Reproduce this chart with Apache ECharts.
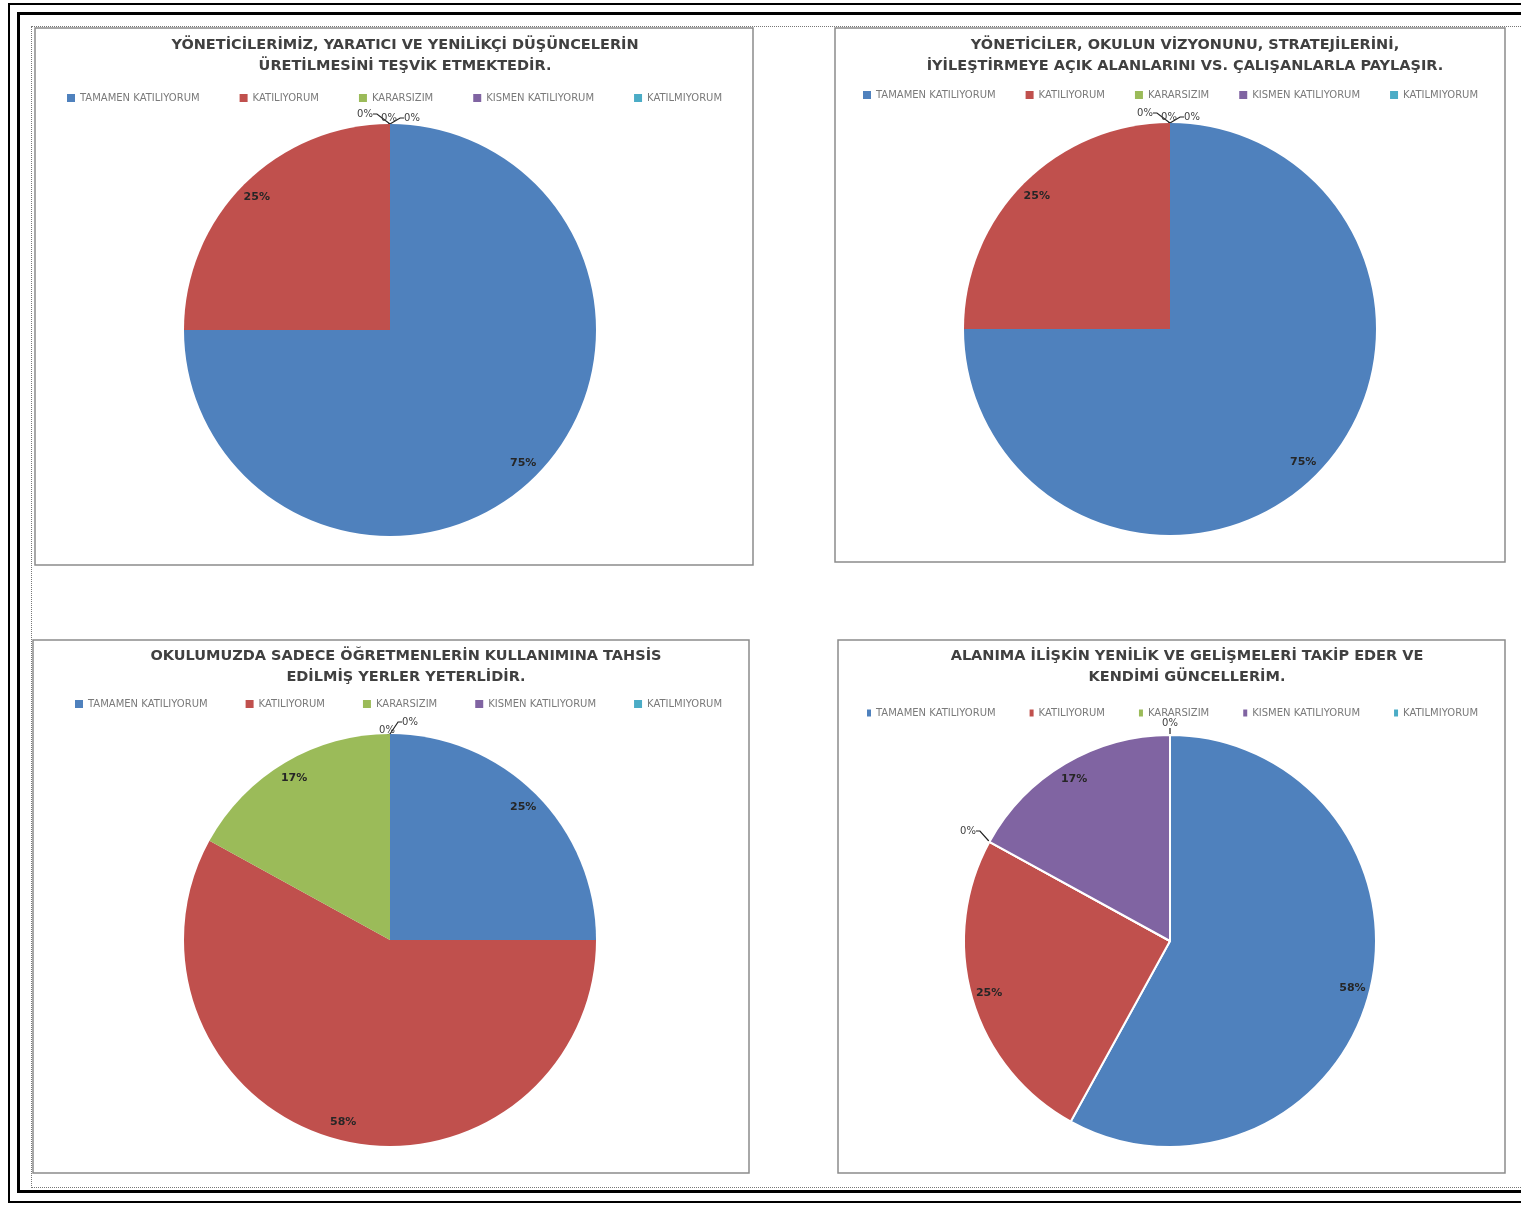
<!DOCTYPE html>
<html>
<head>
<meta charset="utf-8">
<script src="https://cdn.jsdelivr.net/npm/echarts@6/dist/echarts.min.js"></script>
<style>
  html, body { margin:0; padding:0; background:#fff; width:1521px; height:1207px; overflow:hidden; }
  .f { position:absolute; box-sizing:border-box; }
  #chart { position:absolute; left:0; top:0; width:1521px; height:1207px; z-index:2; }
</style>
</head>
<body>
<div class="f" style="left:8px;top:3px;width:1530px;height:1200px;border:2px solid #000;"></div>
<div class="f" style="left:17px;top:12px;width:1520px;height:1181px;border:3px solid #000;"></div>
<div class="f" style="left:31px;top:26px;width:1500px;height:1162px;border:1px dotted #777;"></div>
<div id="chart"></div>
<script>
const categories = ['TAMAMEN KATILIYORUM', 'KATILIYORUM', 'KARARSIZIM', 'KISMEN KATILIYORUM', 'KATILMIYORUM'];
const colors = ['#4F81BD', '#C0504D', '#9BBB59', '#8064A2', '#4BACC6'];
const titles = [
  'YÖNETİCİLERİMİZ, YARATICI VE YENİLİKÇİ DÜŞÜNCELERİN\nÜRETİLMESİNİ TEŞVİK ETMEKTEDİR.',
  'YÖNETİCİLER, OKULUN VİZYONUNU, STRATEJİLERİNİ,\nİYİLEŞTİRMEYE AÇIK ALANLARINI VS. ÇALIŞANLARLA PAYLAŞIR.',
  'OKULUMUZDA SADECE ÖĞRETMENLERİN KULLANIMINA TAHSİS\nEDİLMİŞ YERLER YETERLİDİR.',
  'ALANIMA İLİŞKİN YENİLİK VE GELİŞMELERİ TAKİP EDER VE\nKENDİMİ GÜNCELLERİM.'
];
const values1 = [75, 25, 0, 0, 0];
const values2 = [75, 25, 0, 0, 0];
const values3 = [25, 58, 17, 0, 0];
const values4 = [58, 25, 0, 17, 0];
const allValues = [values1, values2, values3, values4];

// panel layout
const panels = [
  {x:35, y:28, w:718, h:537, cx:390, cy:330, tx:400, ty:30, lx:62, ly:88, gap:40},
  {x:835, y:28, w:670, h:534, cx:1170, cy:329, tx:1180, ty:30, lx:858, ly:85, gap:30},
  {x:33, y:640, w:716, h:533, cx:390, cy:940, tx:401, ty:641, lx:70, ly:694, gap:38},
  {x:838, y:640, w:667, h:533, cx:1170, cy:941, tx:1182, ty:641, lx:862, ly:703, gap:34}
];
const R = 206;
// placement of the "0%" labels of empty slices, relative to the pie centre
const zeroLabelPos = [
  {2:[-25,-216], 3:[-1,-212], 4:[22,-212]},
  {2:[-25,-216], 3:[-1,-212], 4:[22,-212]},
  {3:[-3,-210], 4:[20,-218]},
  {2:[-202,-110], 4:[0,-218]}
];

const chart = echarts.init(document.getElementById('chart'), null, {renderer:'canvas'});

const graphic = panels.map(p => ({
  type:'rect', shape:{x:p.x, y:p.y, width:p.w, height:p.h},
  style:{fill:'#fff', stroke:'#8c8c8c', lineWidth:1.5}, z:-10, silent:true
}));

const title = panels.map((p, i) => ({
  text: titles[i], left: p.tx, top: p.ty, textAlign:'center',
  textStyle:{fontFamily:'DejaVu Sans', fontWeight:'bold', fontSize:14.5, color:'#404040', lineHeight:21}
}));

const legend = panels.map((p, i) => ({
  data: categories, left: p.lx, top: p.ly, orient:'horizontal',
  itemWidth: i === 3 ? 4 : 8, itemHeight: i === 3 ? 7 : 8, itemGap: p.gap, icon:'rect',
  textStyle:{fontFamily:'DejaVu Sans', fontSize:10, color:'#7a7a7a'},
  selectedMode:false
}));

const series = [];
allValues.forEach((vals, i) => {
  const p = panels[i];
  const bw = i === 3 ? 2 : 0;
  series.push({
    type:'pie', radius:[0, R], center:[p.cx, p.cy], startAngle:90, clockwise:true,
    avoidLabelOverlap:false, silent:true, animation:false,
    data: vals.map((v, k) => ({name:categories[k], value:v, itemStyle:{color:colors[k]}})),
    itemStyle:{borderColor:'#fff', borderWidth:bw},
    label:{show:false}, labelLine:{show:false}
  });
  series.push({
    type:'pie', radius:[R*0.8, R], center:[p.cx, p.cy], startAngle:90, clockwise:true,
    avoidLabelOverlap:false, silent:true, animation:false, legendHoverLink:false,
    data: vals.map((v, k) => ({
      name:categories[k], value:v,
      itemStyle:{color:'rgba(0,0,0,0)', borderWidth:0},
      label: v === 0
        ? {show:true, position:'outside', color:'#404040', fontWeight:'normal', fontSize:10}
        : {show:true, position:'inside', color:'#262626', fontWeight:'bold', fontSize:11},
      labelLine: v === 0 ? {show:true, length:8, length2:4, lineStyle:{color:'#222', width:1.2}} : {show:false}
    })),
    label:{formatter: '{c}%', fontFamily:'DejaVu Sans'},
    labelLayout: function (params) {
      const pos = zeroLabelPos[i][params.dataIndex];
      if (!pos) return {};
      return {x: p.cx + pos[0], y: p.cy + pos[1], align:'center', verticalAlign:'middle'};
    }
  });
});

chart.setOption({
  animation:false,
  color: colors,
  graphic: graphic,
  title: title,
  legend: legend,
  series: series
});
</script>
</body>
</html>
